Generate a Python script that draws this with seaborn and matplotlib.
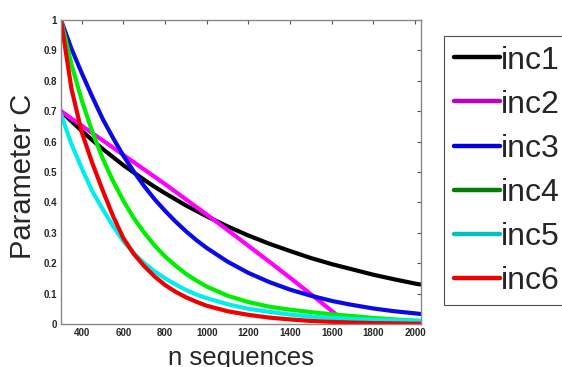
import numpy as np
import pandas as pd
import matplotlib
matplotlib.use("Agg")
import matplotlib.pyplot as plt
from matplotlib.lines import Line2D
import seaborn as sns

# values
n_seq = [300, 350, 400, 450, 500, 550, 600, 650, 700, 750, 800, 850, 900, 950,
         1000, 1100, 1200, 1300, 1400, 1500, 1600, 1680, 1800, 1900, 2000, 2025]

inc1 = [0.700, 0.667, 0.635, 0.605, 0.576, 0.549, 0.522, 0.498, 0.474, 0.451,
        0.430, 0.410, 0.390, 0.372, 0.354, 0.321, 0.291, 0.264, 0.240, 0.217,
        0.197, 0.183, 0.162, 0.147, 0.133, 0.130]
inc2 = [0.700, 0.676, 0.652, 0.628, 0.604, 0.580, 0.556, 0.532, 0.508, 0.484,
        0.460, 0.435, 0.410, 0.385, 0.360, 0.309, 0.257, 0.205, 0.152, 0.098,
        0.043, 0.000, np.nan, np.nan, np.nan, np.nan]
inc3 = [1.000, 0.906, 0.825, 0.748, 0.675, 0.612, 0.553, 0.501, 0.453, 0.410,
        0.372, 0.337, 0.305, 0.276, 0.250, 0.205, 0.168, 0.138, 0.113, 0.093,
        0.076, 0.065, 0.051, 0.042, 0.035, 0.033]
inc4 = [1.000, 0.855, 0.735, 0.633, 0.545, 0.470, 0.405, 0.348, 0.300, 0.258,
        0.222, 0.192, 0.165, 0.143, 0.123, 0.093, 0.072, 0.057, 0.047, 0.039,
        0.032, 0.027, 0.020, 0.015, 0.011, 0.010]
inc5 = [0.690, 0.592, 0.512, 0.437, 0.378, 0.322, 0.272, 0.232, 0.200, 0.173,
        0.150, 0.130, 0.112, 0.097, 0.085, 0.065, 0.050, 0.040, 0.031, 0.024,
        0.020, 0.017, 0.014, 0.012, 0.011, 0.010]
inc6 = [1.000, 0.775, 0.630, 0.530, 0.440, 0.355, 0.282, 0.230, 0.190, 0.156,
        0.128, 0.106, 0.088, 0.073, 0.060, 0.042, 0.030, 0.021, 0.015, 0.010,
        0.007, 0.005, 0.003, 0.002, 0.001, 0.001]

names = ["inc1", "inc2", "inc3", "inc4", "inc5", "inc6"]
line_colors = ["#000000", "#ff00ff", "#0a0ae6", "#00ee00", "#00eeee", "#ee0000"]
legend_colors = ["#000000", "#c000c0", "#0000e0", "#008000", "#00c0c0", "#ee0000"]

x_ticks = [400, 600, 800, 1000, 1200, 1400, 1600, 1800, 2000]
y_ticks = [0, 0.1, 0.2, 0.3, 0.4, 0.5, 0.6, 0.7, 0.8, 0.9, 1]
y_tick_labels = ["0", "0.1", "0.2", "0.3", "0.4", "0.5", "0.6", "0.7", "0.8", "0.9", "1"]

frames = []
for name, vals in zip(names, [inc1, inc2, inc3, inc4, inc5, inc6]):
    frames.append(pd.DataFrame({"n": n_seq, "C": vals, "series": name}))
df = pd.concat(frames).dropna()

sns.set_style("white")
plt.rcParams["font.family"] = ["Liberation Sans", "DejaVu Sans"]

fig = plt.figure(figsize=(5.62, 3.67), dpi=100)
ax = fig.add_axes([0.1085, 0.1172, 0.64, 0.8283])

sns.lineplot(data=df, x="n", y="C", hue="series", palette=line_colors,
             linewidth=3.0, ax=ax, legend=False)

ax.set_xlim(300, 2027)
ax.set_ylim(0, 1)
ax.set_xticks(x_ticks)
ax.set_xticklabels([str(t) for t in x_ticks], fontsize=7, fontweight="bold")
ax.set_yticks(y_ticks)
ax.set_yticklabels(y_tick_labels, fontsize=7, fontweight="bold")
ax.tick_params(direction="in", length=3, width=0.8, color="#555555",
               top=True, right=True, pad=3)
for s in ax.spines.values():
    s.set_color("#888888")
    s.set_linewidth(1.0)

ax.set_xlabel("n sequences", fontsize=18.5, labelpad=6)
ax.set_ylabel("Parameter C", fontsize=21,
              family=["Liberation Sans Narrow", "Liberation Sans"])
ax.yaxis.set_label_coords(-0.068, 0.485)

handles = [Line2D([0], [0], color=c, linewidth=3.2) for c in legend_colors]
leg = fig.legend(handles, names, loc="upper left",
                 bbox_to_anchor=(444 / 562, 1 - 36 / 367),
                 fontsize=23, frameon=True, fancybox=False,
                 handlelength=1.45, handletextpad=0.03, labelspacing=0.44,
                 borderpad=0.3, borderaxespad=0)
leg.get_frame().set_edgecolor("#222222")
leg.get_frame().set_linewidth(0.8)

fig.savefig("out.png", dpi=100)
